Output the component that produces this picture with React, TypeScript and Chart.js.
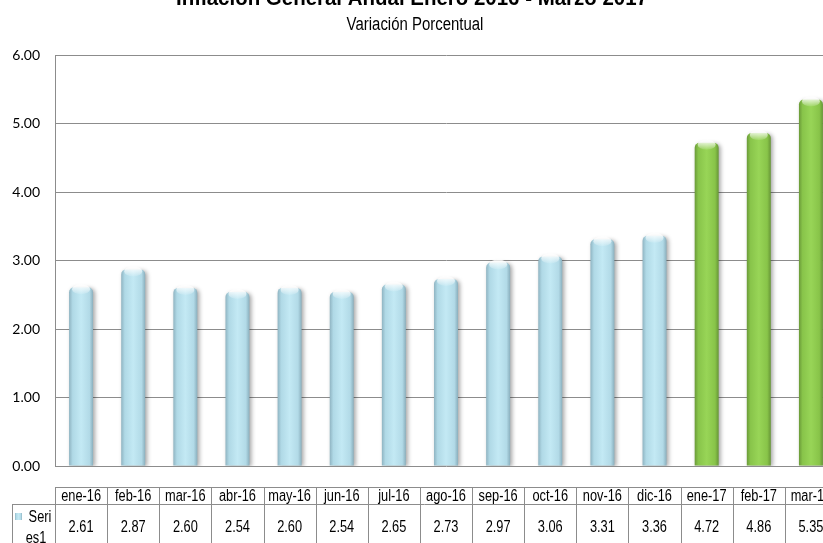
import React, { useEffect, useRef } from 'react';
import { Chart, registerables } from 'chart.js';

Chart.register(...registerables);

const titleText = 'Inflación General Anual Enero 2016 - Marzo 2017';
const subtitleText = 'Variación Porcentual';
const categories = ['ene-16', 'feb-16', 'mar-16', 'abr-16', 'may-16', 'jun-16', 'jul-16', 'ago-16', 'sep-16', 'oct-16', 'nov-16', 'dic-16', 'ene-17', 'feb-17', 'mar-17'];
const series1 = [2.61, 2.87, 2.60, 2.54, 2.60, 2.54, 2.65, 2.73, 2.97, 3.06, 3.31, 3.36, 4.72, 4.86, 5.35];
const seriesName = 'Series1';
const yTicks = [0, 1, 2, 3, 4, 5, 6];

const CANVAS_W = 850;
const CANVAS_H = 543;
const BAR_PCT = 0.46;
const LINE = '#8c8c8c';

const BLUE_STOPS: [number, string][] = [[0, '#8fb4c2'], [0.15, '#b0d9e6'], [0.5, '#c3e9f4'], [0.85, '#b2dae7'], [1, '#8aafbd']];
const GREEN_STOPS: [number, string][] = [[0, '#6a9a38'], [0.15, '#88c44a'], [0.5, '#98d557'], [0.85, '#88c449'], [1, '#679636']];

const is2017 = (i: number) => categories[i].endsWith('17');

function narrowText(ctx: CanvasRenderingContext2D, text: string, x: number, y: number, font: string, sx: number, baseline: CanvasTextBaseline = 'middle') {
  ctx.save();
  ctx.font = font;
  ctx.fillStyle = '#000';
  ctx.textAlign = 'center';
  ctx.textBaseline = baseline;
  ctx.translate(x, y);
  ctx.scale(sx, 1);
  ctx.fillText(text, 0, 0);
  ctx.restore();
}

const titlePlugin = {
  id: 'titlePlugin',
  afterDraw(chart: any) {
    const ctx = chart.ctx as CanvasRenderingContext2D;
    narrowText(ctx, titleText, 412, 5, 'bold 22px "Liberation Sans", Arial, sans-serif', 0.93, 'alphabetic');
    narrowText(ctx, subtitleText, 415, 30, '18px "Liberation Sans", Arial, sans-serif', 0.83, 'alphabetic');
  },
};

const barDecor = {
  id: 'barDecor',
  beforeDatasetsDraw(chart: any) {
    const ctx = chart.ctx as CanvasRenderingContext2D;
    ctx.save();
    ctx.shadowColor = 'rgba(0,0,0,0.35)';
    ctx.shadowBlur = 4;
    ctx.shadowOffsetX = 2;
    ctx.shadowOffsetY = 1;
  },
  afterDatasetsDraw(chart: any) {
    const ctx = chart.ctx as CanvasRenderingContext2D;
    ctx.restore();
    const meta = chart.getDatasetMeta(0);
    ctx.save();
    meta.data.forEach((el: any) => {
      const { x, y, width } = el.getProps(['x', 'y', 'width'], true);
      const g = ctx.createLinearGradient(0, y, 0, y + 8);
      g.addColorStop(0, 'rgba(255,255,255,0.75)');
      g.addColorStop(1, 'rgba(255,255,255,0)');
      ctx.fillStyle = g;
      ctx.beginPath();
      ctx.ellipse(x, y + 2, width / 2 - 3, 5, 0, 0, Math.PI * 2);
      ctx.fill();
    });
    ctx.restore();
  },
};

const tablePlugin = {
  id: 'dataTable',
  afterDraw(chart: any) {
    const ctx = chart.ctx as CanvasRenderingContext2D;
    const xs = chart.scales.x;
    const area = chart.chartArea;
    const n = categories.length;
    const step = xs.getPixelForValue(1) - xs.getPixelForValue(0);
    const left = xs.getPixelForValue(0) - step / 2;
    const right = xs.getPixelForValue(n - 1) + step / 2;
    const yH1 = area.bottom + 21;
    const yH2 = area.bottom + 38;
    const yEnd = CANVAS_H + 20;
    const rowHeadLeft = 12;

    ctx.save();
    ctx.strokeStyle = LINE;
    ctx.lineWidth = 1;
    ctx.beginPath();
    ctx.moveTo(left, Math.round(yH1) + 0.5);
    ctx.lineTo(right, Math.round(yH1) + 0.5);
    ctx.moveTo(rowHeadLeft, Math.round(yH2) + 0.5);
    ctx.lineTo(right, Math.round(yH2) + 0.5);
    for (let i = 0; i <= n; i++) {
      const bx = Math.round(left + i * step) + 0.5;
      ctx.moveTo(bx, yH1);
      ctx.lineTo(bx, yEnd);
    }
    ctx.moveTo(rowHeadLeft + 0.5, yH2);
    ctx.lineTo(rowHeadLeft + 0.5, yEnd);
    ctx.stroke();
    ctx.restore();

    const font = '16px "Liberation Sans", Arial, sans-serif';
    categories.forEach((c, i) => {
      const cx = xs.getPixelForValue(i);
      narrowText(ctx, c, cx, (yH1 + yH2) / 2 + 1, font, 0.8);
      narrowText(ctx, series1[i].toFixed(2), cx, yH2 + 24, font, 0.8);
    });

    // row header: legend key + wrapped series name
    const kx = 15;
    const ky = yH2 + 9;
    const g = ctx.createLinearGradient(kx, 0, kx + 7, 0);
    BLUE_STOPS.forEach(([o, c]) => g.addColorStop(o, c));
    ctx.save();
    ctx.fillStyle = g;
    ctx.fillRect(kx, ky, 7, 7);
    ctx.restore();
    narrowText(ctx, seriesName.slice(0, 4), 40, yH2 + 14, font, 0.8);
    narrowText(ctx, seriesName.slice(4), 36, yH2 + 35, font, 0.8);
  },
};

export default function App() {
  const ref = useRef<HTMLCanvasElement | null>(null);
  useEffect(() => {
    if (!ref.current) return;
    const chart = new Chart(ref.current, {
      type: 'bar',
      data: {
        labels: categories,
        datasets: [
          {
            label: seriesName,
            data: series1,
            backgroundColor: (c: any) => {
              const ch = c.chart;
              const xs = ch.scales && ch.scales.x;
              const fallback = is2017(c.dataIndex) ? '#92d050' : '#b7e1ee';
              if (!xs || !ch.chartArea || c.dataIndex === undefined) return fallback;
              const cx = xs.getPixelForValue(c.dataIndex);
              const step = xs.getPixelForValue(1) - xs.getPixelForValue(0);
              const w = step * BAR_PCT;
              const g = ch.ctx.createLinearGradient(cx - w / 2, 0, cx + w / 2, 0);
              (is2017(c.dataIndex) ? GREEN_STOPS : BLUE_STOPS).forEach(([o, col]) => g.addColorStop(o, col));
              return g;
            },
            borderWidth: 0,
            borderRadius: { topLeft: 5, topRight: 5, bottomLeft: 0, bottomRight: 0 },
            borderSkipped: 'bottom',
            categoryPercentage: 1,
            barPercentage: BAR_PCT,
          },
        ],
      },
      options: {
        responsive: false,
        animation: false,
        layout: { padding: { top: 55, bottom: 77, left: 0, right: 13 } },
        plugins: {
          legend: { display: false },
          title: { display: false },
          tooltip: { enabled: false },
        },
        scales: {
          x: { display: false, offset: true },
          y: {
            min: 0,
            max: 6,
            afterBuildTicks: (s: any) => {
              s.ticks = yTicks.map((v) => ({ value: v }));
            },
            afterFit: (s: any) => {
              s.width = 55;
            },
            ticks: {
              callback: (v: any) => Number(v).toFixed(2),
              font: { family: 'Lato, "Open Sans", sans-serif', size: 14 },
              color: '#000',
              padding: 15,
            },
            grid: { color: LINE, lineWidth: 1, drawTicks: false },
            border: { display: true, color: LINE, width: 1 },
          },
        },
      },
      plugins: [barDecor, tablePlugin, titlePlugin],
    });
    return () => chart.destroy();
  }, []);

  return (
    <div style={{ position: 'fixed', left: 0, top: 0, width: CANVAS_W, height: CANVAS_H, background: '#fff' }}>
      <canvas ref={ref} width={CANVAS_W} height={CANVAS_H} style={{ width: CANVAS_W, height: CANVAS_H, display: 'block' }} />
    </div>
  );
}
